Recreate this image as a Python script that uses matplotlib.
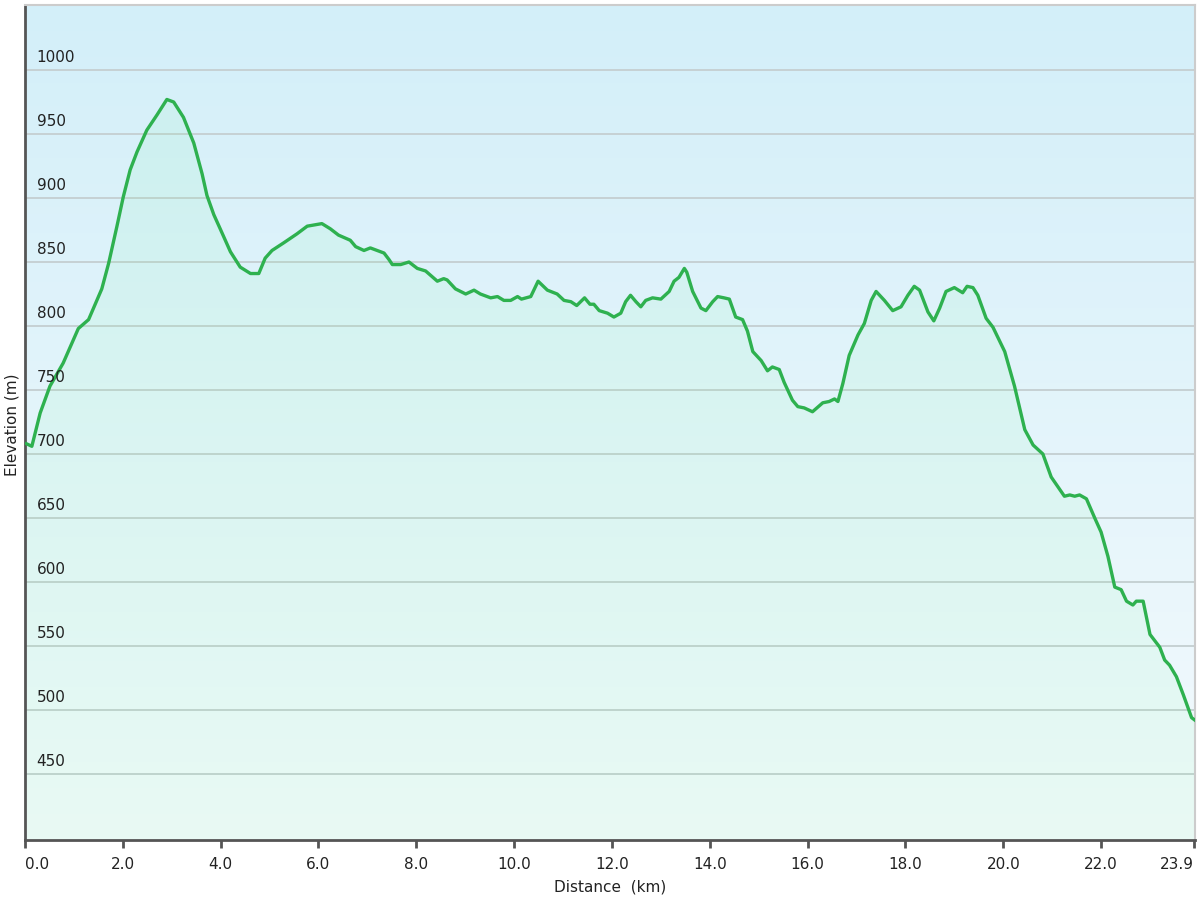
import numpy as np
import matplotlib.pyplot as plt
from matplotlib.colors import LinearSegmentedColormap
from matplotlib.transforms import blended_transform_factory

# elevation profile
dist_km = [0.03, 0.14, 0.31, 0.51, 0.78, 1.09, 1.30, 1.57, 1.71, 1.88, 2.01,
           2.15, 2.29, 2.49, 2.70, 2.90, 3.04, 3.24, 3.45, 3.62, 3.72, 3.86,
           3.99, 4.20, 4.40, 4.61, 4.78, 4.91, 5.05, 5.29, 5.56, 5.77, 6.07,
           6.24, 6.41, 6.65, 6.76, 6.93, 7.06, 7.34, 7.44, 7.51, 7.68, 7.85,
           8.02, 8.19, 8.43, 8.56, 8.63, 8.80, 9.01, 9.18, 9.31, 9.52, 9.66,
           9.79, 9.93, 10.07, 10.15, 10.34, 10.49, 10.68, 10.88, 11.02, 11.16,
           11.28, 11.44, 11.55, 11.63, 11.74, 11.91, 12.04, 12.18, 12.28,
           12.38, 12.49, 12.59, 12.69, 12.83, 13.00, 13.17, 13.27, 13.37,
           13.48, 13.53, 13.65, 13.82, 13.92, 14.06, 14.16, 14.29, 14.40,
           14.53, 14.67, 14.77, 14.88, 15.05, 15.18, 15.28, 15.42, 15.52,
           15.69, 15.80, 15.93, 16.10, 16.31, 16.44, 16.55, 16.62, 16.72,
           16.85, 17.03, 17.16, 17.30, 17.40, 17.57, 17.74, 17.91, 18.05,
           18.18, 18.29, 18.46, 18.58, 18.70, 18.83, 19.00, 19.17, 19.26,
           19.38, 19.48, 19.65, 19.79, 20.03, 20.23, 20.44, 20.61, 20.81,
           20.98, 21.25, 21.36, 21.46, 21.56, 21.70, 21.87, 22.00, 22.14,
           22.28, 22.41, 22.52, 22.65, 22.72, 22.86, 23.00, 23.20, 23.30,
           23.40, 23.54, 23.68, 23.85, 23.92]
elev_m = [708, 706, 732, 753, 771, 798, 805, 829, 849, 878, 901,
          922, 936, 953, 965, 977, 975, 963, 943, 919, 902, 887,
          876, 858, 846, 841, 841, 853, 859, 865, 872, 878, 880,
          876, 871, 867, 862, 859, 861, 857, 852, 848, 848, 850,
          845, 843, 835, 837, 836, 829, 825, 828, 825, 822, 823,
          820, 820, 823, 821, 823, 835, 828, 825, 820, 819,
          816, 822, 817, 817, 812, 810, 807, 810, 819,
          824, 819, 815, 820, 822, 821, 827, 835, 838,
          845, 842, 827, 814, 812, 819, 823, 822, 821,
          807, 805, 796, 780, 773, 765, 768, 766, 756,
          742, 737, 736, 733, 740, 741, 743, 741, 755,
          777, 793, 802, 820, 827, 820, 812, 815, 824,
          831, 828, 811, 804, 814, 827, 830, 826, 831,
          830, 824, 806, 799, 780, 753, 719, 707, 700,
          682, 667, 668, 667, 668, 665, 650, 639, 620,
          596, 594, 585, 582, 585, 585, 559, 549, 539,
          535, 526, 512, 494, 492]

x_ticks = [0, 2, 4, 6, 8, 10, 12, 14, 16, 18, 20, 22, 23.9]
y_ticks = [450, 500, 550, 600, 650, 700, 750, 800, 850, 900, 950, 1000]

fig = plt.figure(figsize=(12, 9), dpi=100)
ax = fig.add_axes([25/1200, 60/900, 1170/1200, 835/900])

ymin, ymax = 398.4, 1050.8
xmin, xmax = 0, 23.92

# background gradient, light blue on top to almost white at the bottom
bg = LinearSegmentedColormap.from_list('bg', ['#f4fafd', '#d3eff9'])
grad = np.linspace(0, 1, 256).reshape(-1, 1)
ax.imshow(grad, cmap=bg, aspect='auto', origin='lower',
          extent=[xmin, xmax, ymin, ymax], zorder=0)

for y in y_ticks:
    ax.axhline(y, color='#c6d1d3', lw=1.4, zorder=1)

ax.fill_between(dist_km, elev_m, ymin, color='#50ff78', alpha=0.065, lw=0, zorder=2)
ax.plot(dist_km, elev_m, color='#2eb14f', lw=2.4, zorder=3, solid_joinstyle='round')

ax.set_xlim(xmin, xmax)
ax.set_ylim(ymin, ymax)

# y labels sit inside the plot, just above the grid lines
tr = blended_transform_factory(ax.transAxes, ax.transData)
for y in y_ticks:
    ax.text(0.010, y + 10, str(y), transform=tr, fontsize=11, color='#222222',
            ha='left', va='center', zorder=4)
ax.set_yticks([])

ax.set_xticks(x_ticks)
labels = ax.set_xticklabels(['%.1f' % v for v in x_ticks], fontsize=11, color='#222222')
labels[0].set_ha('left')
labels[-1].set_ha('right')
ax.tick_params(axis='x', direction='out', length=6, width=2, color='#555555', pad=6)

ax.set_xlabel('Distance  (km)', fontsize=11, color='#222222', labelpad=6)
fig.text(12/1200, 1 - 425/900, 'Elevation (m)', rotation=90, fontsize=11,
         color='#222222', ha='center', va='center')

for s in ['left', 'bottom']:
    ax.spines[s].set_color('#555555')
    ax.spines[s].set_linewidth(2)
for s in ['top', 'right']:
    ax.spines[s].set_color('#cccccc')
    ax.spines[s].set_linewidth(1.5)

plt.savefig('out.png', dpi=100)
